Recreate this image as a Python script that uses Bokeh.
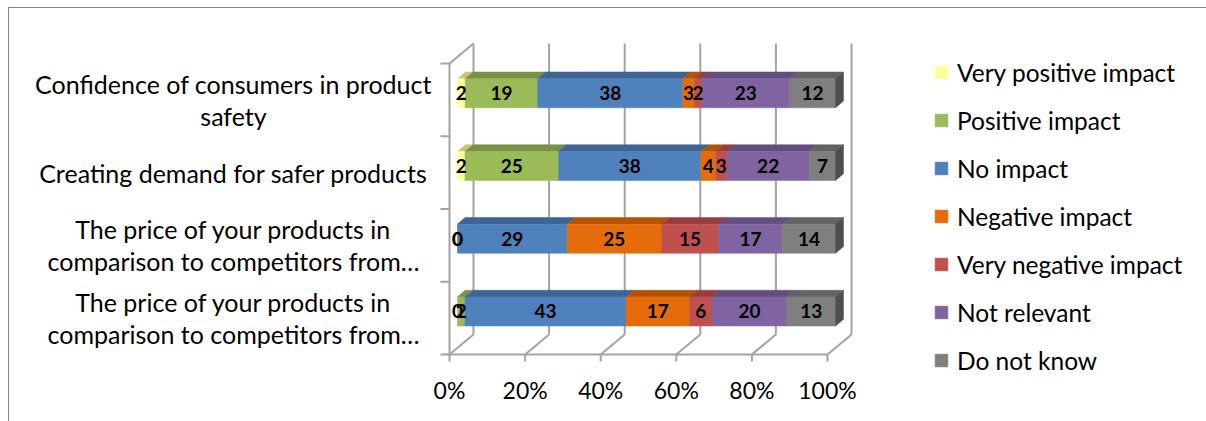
import numpy as np
from bokeh.plotting import figure
from bokeh.models import Range1d, Legend, LegendItem
from bokeh.core.properties import value
from bokeh.embed import file_html
from bokeh.resources import INLINE

# ---- data (rows listed bottom to top) ----
categories = [
    "The price of your products in\ncomparison to competitors from…",
    "The price of your products in\ncomparison to competitors from…",
    "Creating demand for safer products",
    "Confidence of consumers in product\nsafety",
]
series_names = [
    "Very positive impact",
    "Positive impact",
    "No impact",
    "Negative impact",
    "Very negative impact",
    "Not relevant",
    "Do not know",
]
very_positive = [0, 0, 2, 2]
positive = [2, 0, 25, 19]
no_impact = [43, 29, 38, 38]
negative = [17, 25, 4, 3]
very_negative = [6, 15, 3, 2]
not_relevant = [20, 17, 22, 23]
do_not_know = [13, 14, 7, 12]
x_ticks = [0, 20, 40, 60, 80, 100]
x_tick_labels = ["0%", "20%", "40%", "60%", "80%", "100%"]

series_values = [very_positive, positive, no_impact, negative,
                 very_negative, not_relevant, do_not_know]
front_colors = ["#FFFF99", "#9BBB59", "#4F81BD", "#E46C0A",
                "#C0504D", "#8064A2", "#7F7F7F"]


def shade(hex_color, f):
    r, g, b = (int(hex_color[i:i + 2], 16) for i in (1, 3, 5))
    return "#%02x%02x%02x" % (int(r * f), int(g * f), int(b * f))


top_colors = [shade(c, 0.78) for c in front_colors]
side_colors = [shade(c, 0.62) for c in front_colors]

# ---- canvas / scale setup (frame fills the whole canvas) ----
W, H = 1206, 421
X0_PX, X_SCALE = 449.0, 3.78       # pixel of 0 %, pixels per percent
FLOOR_PX, Y_SCALE = 354.0, 72.75   # pixel of floor, pixels per category
DX = 24.0 / X_SCALE                # wall depth (x, in %)
DY = 20.0 / Y_SCALE                # wall depth (y, in category units)
BAR_H = 0.4
n_cat = len(categories)
FONT = value("Lato")

p = figure(width=W, height=H, output_backend="svg", toolbar_location=None,
           x_axis_type=None, y_axis_type=None, min_border=0,
           x_range=Range1d(-X0_PX / X_SCALE, (W - X0_PX) / X_SCALE),
           y_range=Range1d(-(H - FLOOR_PX) / Y_SCALE, FLOOR_PX / Y_SCALE))
p.grid.visible = False
p.outline_line_color = None
p.background_fill_color = "white"
p.border_fill_color = "white"

# chart area border (top and left edges visible)
bx = (8 - X0_PX) / X_SCALE
by = (FLOOR_PX - 7) / Y_SCALE
p.line([bx, bx, (W + 20 - X0_PX) / X_SCALE], [-(H + 20 - FLOOR_PX) / Y_SCALE, by, by],
       line_color="#868686", line_width=1)

# ---- walls, floor and axes ----
grid_col = "#A3A3A3"
back_xs = [[t + DX, t + DX] for t in x_ticks]
back_ys = [[DY, n_cat + DY] for t in x_ticks]
floor_xs = [[t, t + DX] for t in x_ticks]
floor_ys = [[0, DY] for t in x_ticks]
p.multi_line(back_xs + floor_xs, back_ys + floor_ys, line_color=grid_col, line_width=2)
# front floor edge, vertical axis and the top edge of the side wall
p.line([0, 100], [0, 0], line_color=grid_col, line_width=2)
p.line([0, 0, DX], [0, n_cat, n_cat + DY], line_color=grid_col, line_width=2)
# tick marks
tick_len_x = 7 / Y_SCALE
tick_len_y = 9 / X_SCALE
p.multi_line([[t, t] for t in x_ticks], [[0, -tick_len_x] for t in x_ticks],
             line_color=grid_col, line_width=2)
p.multi_line([[-tick_len_y, 0] for k in range(n_cat + 1)],
             [[k, k] for k in range(n_cat + 1)], line_color=grid_col, line_width=2)

# ---- 3D stacked bars ----
vals = np.array(series_values, dtype=float)     # series x category
totals = vals.sum(axis=0)
pct = vals / totals * 100.0
right_edge = np.cumsum(pct, axis=0)
left_edge = right_edge - pct
centers = np.arange(n_cat) + 0.5
ox, oy = DX / 3.0, DY / 3.0                     # front face offset
bottom = centers - BAR_H / 2 + oy
top = centers + BAR_H / 2 + oy

legend_items = []
for s, name in enumerate(series_names):
    l = left_edge[s] + ox
    r = right_edge[s] + ox
    # top face
    p.patches([[a, b, b + ox, a + ox] for a, b in zip(l, r)],
              [[t, t, t + oy, t + oy] for t in top],
              fill_color=top_colors[s], line_color=top_colors[s], line_width=0.5)
    # front face
    rr = p.quad(left=l, right=r, bottom=bottom, top=top,
                fill_color=front_colors[s], line_color=front_colors[s], line_width=0.5)
    legend_items.append(LegendItem(label=name, renderers=[rr]))

# right side face of the last segment
last = len(series_names) - 1
re_ = right_edge[last] + ox
p.patches([[x, x + ox, x + ox, x] for x in re_],
          [[b, b + oy, t + oy, t] for b, t in zip(bottom, top)],
          fill_color=side_colors[last], line_color=side_colors[last], line_width=0.5)

# value labels
lab_x, lab_y, lab_t = [], [], []
for s in range(len(series_names)):
    for c in range(n_cat):
        lab_x.append((left_edge[s][c] + right_edge[s][c]) / 2 + ox)
        lab_y.append(centers[c] + oy)
        lab_t.append("%d" % series_values[s][c])
p.text(lab_x, lab_y, text=lab_t, text_align="center", text_baseline="middle",
       text_font=FONT, text_font_style="bold", text_font_size="19px",
       text_color="black")

# category labels
cat_x = (233 - X0_PX) / X_SCALE
p.text([cat_x] * n_cat, list(centers), text=categories, text_align="center",
       text_baseline="middle", text_font=FONT, text_font_size="25px",
       text_color="black", text_line_height=1.07)

# x tick labels
p.text(x_ticks, [-(389 - FLOOR_PX) / Y_SCALE] * len(x_ticks), text=x_tick_labels,
       text_align="center", text_baseline="middle", text_font=FONT,
       text_font_size="23px", text_color="black")

legend = Legend(items=legend_items, location=(933, 37), orientation="vertical",
                glyph_width=16, glyph_height=16, label_height=48, spacing=0,
                padding=0, margin=0, label_standoff=8,
                label_text_font="Lato", label_text_font_size="24.5px",
                label_text_color="black", border_line_color=None,
                background_fill_alpha=0)
p.add_layout(legend)

open("out.html", "w").write(file_html(p, INLINE))
